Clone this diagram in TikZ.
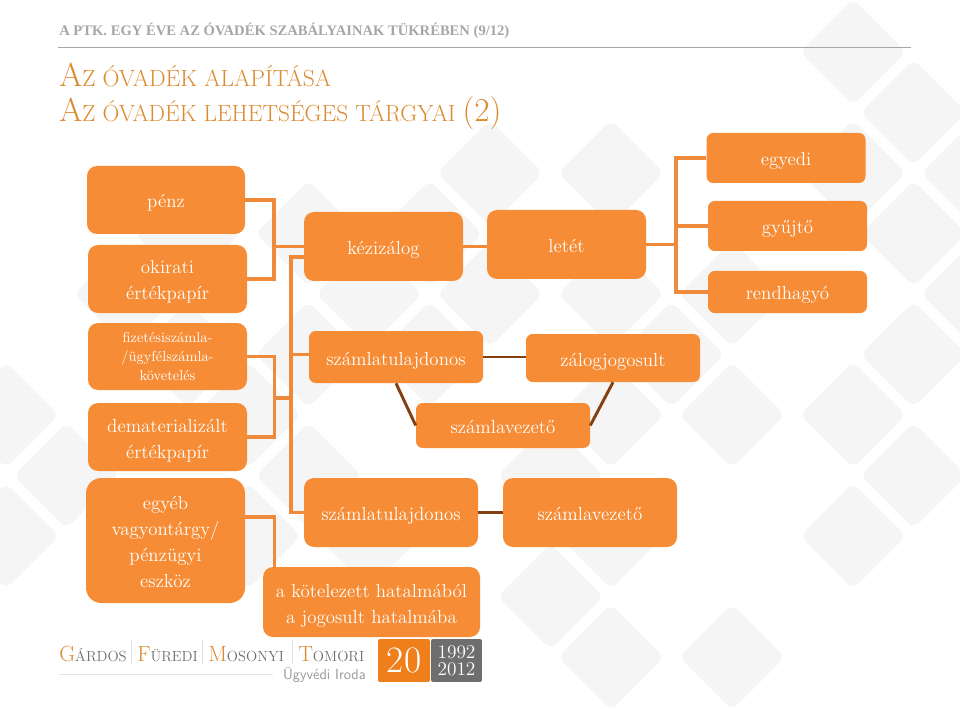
\documentclass[tikz,border=0pt]{standalone}
\usepackage{fontspec}
\newfontfamily\headfont{Liberation Serif}
\definecolor{boxorange}{HTML}{F68D36}
\definecolor{linkorange}{HTML}{EE8A3A}
\definecolor{linkbrown}{HTML}{84400F}
\definecolor{titleorange}{HTML}{DC8A30}
\definecolor{headgray}{HTML}{A6A6A6}
\definecolor{diagray}{HTML}{F5F5F6}
\definecolor{logogray}{HTML}{6E6E6E}
\definecolor{logoorange}{HTML}{EF7F1A}
\tikzset{
	orbox/.style 2 args={fill=boxorange, text=white, rounded corners=7.5pt, align=center, inner sep=0pt,
		minimum width=#1*0.75pt, minimum height=#2*0.75pt, font=\fontsize{14.2}{19.5}\selectfont,
		text height=14pt, text depth=2pt},
	twolines/.style={text height=33.5pt},
	link/.style={draw=linkorange, line width=2.4pt},
	brownlink/.style={draw=linkbrown, line width=2.2pt},
	title/.style={anchor=base west, inner sep=0pt, text=titleorange},
	logo/.style={anchor=base west, inner sep=0pt, text=logogray, font=\fontsize{11}{11}\selectfont},
}
\newcommand{\titlecap}[1]{{\fontsize{25}{25}\selectfont #1}}
\newcommand{\logocap}[1]{{\color{titleorange}\fontsize{16.5}{16.5}\selectfont #1}}
\begin{document}
\begin{tikzpicture}[x=0.75pt,y=-0.75pt]
	\useasboundingbox (0,0) rectangle (960,709);
	% background
	\foreach \i/\j in {-8/4,-8/6,-7/5,-6/2,-5/1,-5/3,-4/4,-4/6,-3/1,-3/3,-3/5,-2/2,-2/6,-1/1,-1/3,
		0/0,0/2,1/5,1/7,2/0,2/2,2/4,2/6,2/8,3/3,4/2,4/4,4/8,6/-2,6/0,6/4,6/6,7/-1,7/1,7/3,7/5,8/0,8/2} {
		\pgfmathsetmacro{\cx}{490+60.5*\i}
		\pgfmathsetmacro{\cy}{173+60.5*\j}
		\fill[diagray, rounded corners=6pt] (\cx-53,\cy) -- (\cx,\cy-53) -- (\cx+53,\cy) -- (\cx,\cy+53) -- cycle;
	}
	% head
	\node[anchor=base west, inner sep=0pt, text=headgray, font=\headfont\bfseries\fontsize{10.95}{12}\selectfont] (head) at (59,36) {A PTK. EGY ÉVE AZ ÓVADÉK SZABÁLYAINAK TÜKRÉBEN (9/12)};
	\coordinate (ruleL) at (58,47.5);
	\coordinate (ruleR) at (911,47.5);
	\draw[headgray, line width=0.8pt] (ruleL) -- (ruleR);
	\node[title, font=\fontsize{17.6}{17.6}\selectfont] (titlea) at (59,87) {\titlecap{A}Z ÓVADÉK ALAPÍTÁSA};
	\node[title, font=\fontsize{17.5}{17.5}\selectfont] (titleb) at (59,122) {\titlecap{A}Z ÓVADÉK LEHETSÉGES TÁRGYAI \titlecap{(2)}};
	% left column
	\node[orbox={158}{68}] (penz) at (166,200) {pénz};
	\node[orbox={159}{68}, twolines] (okirati) at (167.5,279) {okirati\\értékpapír};
	\node[orbox={159}{67}, text height=38.7pt, font=\fontsize{10.8}{14.6}\selectfont] (fizetes) at (167.5,356.5) {fizetésiszámla-\\/ügyfélszámla-\\követelés};
	\node[orbox={159}{68}, twolines] (demat) at (167.5,437) {dematerializált\\értékpapír};
	\node[orbox={159}{125}, text height=72.5pt, rounded corners=11.5pt] (egyeb) at (165.5,540.5) {egyéb\\vagyontárgy/\\pénzügyi\\eszköz};
	% middle
	\node[orbox={159}{69}] (kezizalog) at (383.5,246.5) {kézizálog};
	\node[orbox={159}{69}] (letet) at (566.5,244.5) {letét};
	\node[orbox={159}{50}, rounded corners=5pt] (egyedi) at (786,158) {egyedi};
	\node[orbox={159}{50}, rounded corners=5pt] (gyujto) at (787.5,226) {gyűjtő};
	\node[orbox={159}{42}, rounded corners=5pt] (rendhagyo) at (787.5,292) {rendhagyó};
	\node[orbox={174}{52}, rounded corners=5pt] (tulajA) at (396,357) {számlatulajdonos};
	\node[orbox={174}{48}, rounded corners=5pt] (zalog) at (613,358) {zálogjogosult};
	\node[orbox={174}{45}, rounded corners=5pt] (vezetoA) at (503,425.5) {számlavezető};
	\node[orbox={174}{69}] (tulajB) at (391,512.5) {számlatulajdonos};
	\node[orbox={174}{69}] (vezetoB) at (590,512.5) {számlavezető};
	\node[orbox={217}{70}, twolines] (hatalom) at (371.5,602) {a kötelezett hatalmából\\a jogosult hatalmába};
	% connectors
	\coordinate (jointA) at (274,246.5);
	\coordinate (busTop) at (291,257);
	\coordinate (kezIn) at (304,257);
	\coordinate (busBot) at (291,512.5);
	\coordinate (jointB) at (274.5,398);
	\coordinate (busMid) at (291,398);
	\coordinate (busTul) at (291,354.5);
	\coordinate (tulIn) at (309,354.5);
	\coordinate (egyebOut) at (245,517);
	\coordinate (jointC) at (274.5,567);
	\coordinate (busTopR) at (676,158);
	\coordinate (busBotR) at (676,292);
	\draw[link] (penz.east) -| (jointA);
	\draw[link] (okirati.east) -| (jointA);
	\draw[link] (jointA) -- (kezizalog.west);
	\draw[link] (kezIn) -- (busTop) -- (busBot) -- (tulajB.west);
	\draw[link] (tulIn) -- (busTul);
	\draw[link] (fizetes.east) -| (jointB);
	\draw[link] (demat.east) -| (jointB);
	\draw[link] (jointB) -- (busMid);
	\draw[link] (egyebOut) -| (jointC);
	\draw[link] (kezizalog.east) -- (letet.west |- kezizalog.east);
	\draw[link] (egyedi.west) -- (busTopR) -- (busBotR) -- (rendhagyo.west);
	\draw[link] (gyujto.west) -- (gyujto.west -| busTopR);
	\draw[link] (letet.east) -- (letet.east -| busTopR);
	\draw[brownlink] (tulajA.east) -- (zalog.west |- tulajA.east);
	\draw[brownlink] (tulajA.south) -- (vezetoA.west);
	\draw[brownlink] (zalog.south) -- (vezetoA.east);
	\draw[brownlink] (tulajB.east) -- (vezetoB.west);
	% logo
	\node[logo] (gardos) at (59,661.5) {\logocap{G}ÁRDOS};
	\node[logo] (furedi) at (137,661.5) {\logocap{F}ÜREDI};
	\node[logo] (mosonyi) at (208,661.5) {\logocap{M}OSONYI};
	\node[logo] (tomori) at (298,661.5) {\logocap{T}OMORI};
	\foreach \x in {131,202,292} {
		\draw[gray!25, line width=0.4pt] (\x,640) -- (\x,664);
	}
	\draw[gray!20, line width=0.6pt] (59,674) -- (273,674);
	\node[anchor=base east, inner sep=0pt, text=gray!80, font=\sffamily\fontsize{11}{11}\selectfont] (iroda) at (366,679) {Ügyvédi Iroda};
	\node[fill=logoorange, text=white, rounded corners=1.5pt, inner sep=0pt, minimum width=39pt, minimum height=32.2pt, font=\fontsize{28}{28}\selectfont] (husz) at (404,660.5) {20};
	\node[fill=logogray, text=white, rounded corners=1.5pt, inner sep=0pt, minimum width=38.2pt, minimum height=32.2pt, align=center, font=\fontsize{14.5}{12.5}\selectfont] (evek) at (456.5,660.5) {1992\\2012};
\end{tikzpicture}
\end{document}
